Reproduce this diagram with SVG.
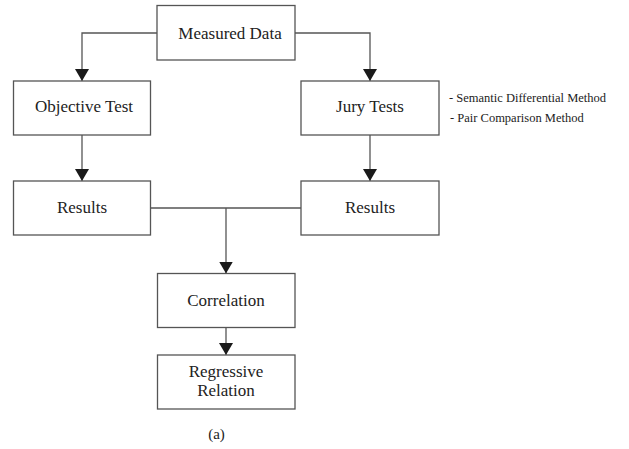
<svg xmlns="http://www.w3.org/2000/svg" width="629" height="449" viewBox="0 0 629 449">
<style>
.box{fill:#fff;stroke:#555;stroke-width:1.3}
.lbl{font-family:"Liberation Serif","Times New Roman",serif;font-size:17px;fill:#222;text-anchor:middle}
.note{font-family:"Liberation Serif","Times New Roman",serif;font-size:12.5px;fill:#222}
.con{fill:none;stroke:#555;stroke-width:1.3}
</style>
<defs>
<marker id="ah" viewBox="0 0 12 14" markerWidth="12" markerHeight="14" refX="12" refY="7" orient="auto" markerUnits="userSpaceOnUse">
<path d="M0,0 L12,7 L0,14 z" fill="#1a1a1a"/>
</marker>
</defs>
<rect width="629" height="449" fill="#fff"/>
<g id="connectors">
<path class="con" d="M157,33 H82 V81" marker-end="url(#ah)"/>
<path class="con" d="M295,33 H370 V81" marker-end="url(#ah)"/>
<path class="con" d="M82,135 V181" marker-end="url(#ah)"/>
<path class="con" d="M370,135 V181" marker-end="url(#ah)"/>
<path class="con" d="M150.5,208 H301"/>
<path class="con" d="M226,208 V273.5" marker-end="url(#ah)"/>
<path class="con" d="M226,327.5 V355" marker-end="url(#ah)"/>
</g>
<g id="measured">
<rect class="box" x="157" y="5.5" width="138" height="54.5"/>
<text class="lbl" x="230" y="39">Measured Data</text>
</g>
<g id="objective">
<rect class="box" x="13.5" y="81" width="137" height="54"/>
<text class="lbl" x="84" y="112">Objective Test</text>
</g>
<g id="jury">
<rect class="box" x="301" y="81" width="138" height="54"/>
<text class="lbl" x="370" y="112">Jury Tests</text>
<text class="note" x="449" y="102">- Semantic Differential Method</text>
<text class="note" x="450" y="122">- Pair Comparison Method</text>
</g>
<g id="results-left">
<rect class="box" x="13.5" y="181" width="137" height="54"/>
<text class="lbl" x="82" y="213">Results</text>
</g>
<g id="results-right">
<rect class="box" x="301" y="181" width="138" height="54"/>
<text class="lbl" x="370" y="213">Results</text>
</g>
<g id="correlation">
<rect class="box" x="157.5" y="273.5" width="137.5" height="54"/>
<text class="lbl" x="226" y="306">Correlation</text>
</g>
<g id="regressive">
<rect class="box" x="157.5" y="355" width="137.5" height="54"/>
<text class="lbl" x="226" y="377">Regressive</text>
<text class="lbl" x="226" y="396">Relation</text>
</g>
<text class="lbl" x="216.5" y="439" style="font-size:15px">(a)</text>
</svg>
